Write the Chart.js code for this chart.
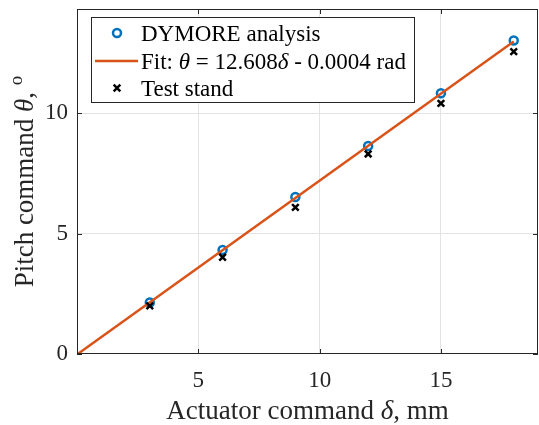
<!DOCTYPE html>
<html>
<head>
<meta charset="utf-8">
<script src="https://cdn.jsdelivr.net/npm/chart.js@4/dist/chart.umd.min.js"></script>
<style>
  html, body { margin: 0; padding: 0; background: #ffffff; }
  canvas { display: block; }
</style>
</head>
<body>
<canvas id="chart" width="539" height="425"></canvas>
<script>
// Actuator command (mm) at which the pitch was recorded
const actuatorMm = [3, 6, 9, 12, 15, 18];
// Pitch command (deg) from the DYMORE model
const dymorePitch = [2.14, 4.32, 6.52, 8.64, 10.83, 13.02];
// Pitch command (deg) measured on the test stand
const testStandPitch = [2.00, 4.02, 6.09, 8.31, 10.41, 12.56];
// Linear fit endpoints: theta = 12.608*delta - 0.0004 rad, delta in m, shown in deg
const fitMm = [0, 18];
const fitPitch = [-0.02, 12.98];

const xTickValues = [5, 10, 15];
const yTickValues = [0, 5, 10];
const xRange = [0, 19];
const yRange = [0, 14.33];

const labels = {
  dymore: 'DYMORE analysis',
  fit: 'Fit: θ = 12.608δ - 0.0004 rad',
  test: 'Test stand',
  x: 'Actuator command δ, mm',
  y: 'Pitch command θ, °'
};

const BLUE = '#0072BD';
const ORANGE = '#D95319';
const INK = '#262626';
const SERIF = '"Liberation Serif", "Times New Roman", serif';

function fontOf(size, italic) {
  return (italic ? 'italic ' : '') + size + 'px ' + SERIF;
}

// Split a label into runs: Greek symbols italic, degree sign as raised "o"
function runsOf(text) {
  const out = [];
  for (const part of text.split(/([θδ°])/)) {
    if (!part) continue;
    if (part === 'θ' || part === 'δ') out.push({ t: part, italic: true });
    else if (part === '°') out.push({ t: 'o', sup: true });
    else out.push({ t: part });
  }
  return out;
}

function runFont(r, size) {
  return fontOf(r.sup ? Math.round(size * 0.72) : size, !!r.italic);
}

function richWidth(ctx, runs, size) {
  let w = 0;
  for (const r of runs) { ctx.font = runFont(r, size); w += ctx.measureText(r.t).width; }
  return w;
}

function drawRich(ctx, text, x, y, size, align) {
  const runs = runsOf(text);
  let cx = x;
  if (align === 'center') cx = x - richWidth(ctx, runs, size) / 2;
  ctx.textBaseline = 'alphabetic';
  ctx.textAlign = 'left';
  for (const r of runs) {
    ctx.font = runFont(r, size);
    ctx.fillText(r.t, cx, r.sup ? y - size * 0.42 : y);
    cx += ctx.measureText(r.t).width;
  }
}

// Box, inward ticks, axis titles and legend
const decorations = {
  id: 'decorations',
  afterDatasetsDraw(chart) {
    const { ctx, chartArea: a, scales } = chart;
    ctx.save();
    ctx.strokeStyle = INK;
    ctx.lineWidth = 1;
    ctx.strokeRect(a.left + 0.5, a.top + 0.5, a.right - a.left - 1, a.bottom - a.top - 1);
    const tl = 5;
    ctx.beginPath();
    for (const v of xTickValues) {
      const px = Math.round(scales.x.getPixelForValue(v)) + 0.5;
      ctx.moveTo(px, a.bottom); ctx.lineTo(px, a.bottom - tl);
      ctx.moveTo(px, a.top); ctx.lineTo(px, a.top + tl);
    }
    for (const v of yTickValues) {
      const py = Math.round(scales.y.getPixelForValue(v)) + 0.5;
      ctx.moveTo(a.left, py); ctx.lineTo(a.left + tl, py);
      ctx.moveTo(a.right, py); ctx.lineTo(a.right - tl, py);
    }
    ctx.stroke();

    // axis titles
    ctx.fillStyle = INK;
    drawRich(ctx, labels.x, (a.left + a.right) / 2, 419, 27, 'center');
    ctx.save();
    ctx.translate(33, (a.top + a.bottom) / 2);
    ctx.rotate(-Math.PI / 2);
    drawRich(ctx, labels.y, 0, 0, 27, 'center');
    ctx.restore();

    // legend
    const lx = 91, ly = 17, lw = 324, lh = 86;
    ctx.fillStyle = '#ffffff';
    ctx.fillRect(lx, ly, lw, lh);
    ctx.strokeStyle = INK;
    ctx.lineWidth = 1;
    ctx.strokeRect(lx + 0.5, ly + 0.5, lw - 1, lh - 1);
    const rows = [
      { text: labels.dymore, y: 33, kind: 'circle' },
      { text: labels.fit, y: 61, kind: 'line' },
      { text: labels.test, y: 88, kind: 'cross' }
    ];
    for (const row of rows) {
      if (row.kind === 'circle') {
        ctx.strokeStyle = BLUE; ctx.lineWidth = 2.5;
        ctx.beginPath(); ctx.arc(117, row.y, 4, 0, Math.PI * 2); ctx.stroke();
      } else if (row.kind === 'line') {
        ctx.strokeStyle = ORANGE; ctx.lineWidth = 2.5;
        ctx.beginPath(); ctx.moveTo(95, row.y); ctx.lineTo(138, row.y); ctx.stroke();
      } else {
        ctx.strokeStyle = '#000000'; ctx.lineWidth = 2.5;
        const d = 3.3;
        ctx.beginPath();
        ctx.moveTo(117 - d, row.y - d); ctx.lineTo(117 + d, row.y + d);
        ctx.moveTo(117 - d, row.y + d); ctx.lineTo(117 + d, row.y - d);
        ctx.stroke();
      }
      ctx.fillStyle = '#000000';
      drawRich(ctx, row.text, 141, row.y + 8, 23, 'left');
    }
    ctx.restore();
  }
};

const pts = (xs, ys) => xs.map((x, i) => ({ x: x, y: ys[i] }));

new Chart(document.getElementById('chart'), {
  type: 'scatter',
  data: {
    datasets: [
      {
        label: labels.test,
        data: pts(actuatorMm, testStandPitch),
        order: 1,
        pointStyle: 'crossRot',
        radius: 4.7,
        borderWidth: 2.5,
        borderColor: '#000000',
        backgroundColor: '#000000'
      },
      {
        label: labels.fit,
        type: 'line',
        data: pts(fitMm, fitPitch),
        order: 2,
        showLine: true,
        pointRadius: 0,
        borderColor: ORANGE,
        borderWidth: 2.5,
        fill: false
      },
      {
        label: labels.dymore,
        data: pts(actuatorMm, dymorePitch),
        order: 3,
        pointStyle: 'circle',
        radius: 4,
        borderWidth: 2.5,
        borderColor: BLUE,
        backgroundColor: 'rgba(0,0,0,0)'
      }
    ]
  },
  options: {
    responsive: false,
    animation: false,
    devicePixelRatio: 1,
    layout: { autoPadding: false, padding: { left: 0, top: 9, right: 1, bottom: 0 } },
    plugins: { legend: { display: false }, tooltip: { enabled: false } },
    scales: {
      x: {
        type: 'linear',
        min: xRange[0],
        max: xRange[1],
        afterBuildTicks: s => { s.ticks = xTickValues.map(v => ({ value: v })); },
        afterFit: s => { s.height = 71; s.paddingLeft = 0; s.paddingRight = 0; },
        ticks: {
          color: INK,
          padding: 13,
          font: { family: SERIF, size: 23 }
        },
        grid: { color: '#e3e3e3', lineWidth: 1, drawTicks: false },
        border: { display: false }
      },
      y: {
        type: 'linear',
        min: yRange[0],
        max: yRange[1],
        afterBuildTicks: s => { s.ticks = yTickValues.map(v => ({ value: v })); },
        afterFit: s => { s.width = 77; s.paddingTop = 0; s.paddingBottom = 0; },
        ticks: {
          color: INK,
          padding: 9,
          font: { family: SERIF, size: 23 }
        },
        grid: {
          color: c => (c.tick && c.tick.value === 0 ? 'rgba(0,0,0,0)' : '#e3e3e3'),
          lineWidth: 1,
          drawTicks: false
        },
        border: { display: false }
      }
    }
  },
  plugins: [decorations]
});
</script>
</body>
</html>
